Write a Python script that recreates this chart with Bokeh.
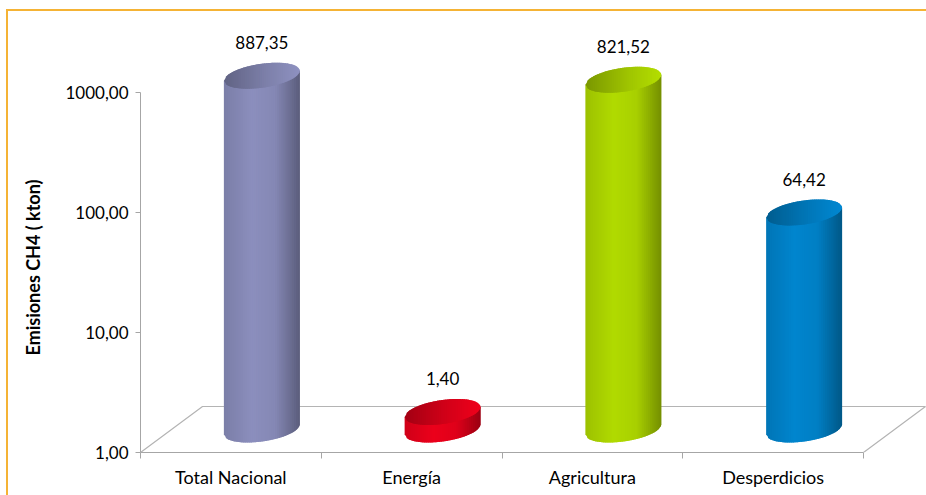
import math
import numpy as np
from bokeh.plotting import figure
from bokeh.models import (FixedTicker, LabelSet, ColumnDataSource, Title, Range1d)
from bokeh.core.properties import value
from bokeh.embed import file_html
from bokeh.resources import INLINE

# ---------------- data ----------------
categories = ["Total Nacional", "Energía", "Agricultura", "Desperdicios"]
emissions = [887.35, 1.40, 821.52, 64.42]
y_ticks = [1, 10, 100, 1000]
y_tick_labels = ["1,00", "10,00", "100,00", "1000,00"]
y_title = "Emisiones CH4 ( kton)"

# ---------------- style / layout ----------------
W, H = 926, 495
FL, FT = 139, 20          # frame left / top (px)
FW, FH = 786, 432         # frame size (px)
PPU = 180.75              # px per category unit
X_END = FW / PPU
DECADES = 3.6
PPD = FH / DECADES        # px per decade
DX, DY = 31, 23           # half-depth offset of 3D floor (px)
A, B, S = 38, 12, 5       # cylinder half-width, ellipse half-height, tilt (px)
NSTRIP = 40
OVERLAP = 1.6 / A         # strip overlap (in unit-radius terms) to avoid seams
FONT = "Lato"
BORDER = "#f5b335"

body_colors = [(134, 137, 182), (226, 0, 26), (170, 210, 0), (0, 128, 198)]
BODY_SHADE = [(-1.0, 0.92), (-0.25, 1.04), (0.35, 0.99), (1.0, 0.68)]
TOP_SHADE = [(-1.0, 0.72), (0.1, 0.93), (1.0, 1.06)]


def fx(x, px=0.0):
    return x + px / PPU


def fy(v, py=0.0):
    return v * 10 ** (py / PPD)


def shade(c, f):
    return "#%02x%02x%02x" % tuple(min(255, max(0, int(round(ch * f)))) for ch in c)


def factor(pts, u):
    return float(np.interp(u, [q[0] for q in pts], [q[1] for q in pts]))


p = figure(width=W, height=H, frame_width=FW, frame_height=FH,
           y_axis_type="log", x_range=Range1d(0, X_END),
           y_range=Range1d(1, 10 ** DECADES),
           output_backend="svg", toolbar_location=None,
           min_border_left=FL, min_border_top=FT,
           min_border_right=W - FL - FW, min_border_bottom=H - FT - FH)
p.xgrid.visible = False
p.ygrid.visible = False
p.outline_line_color = None
p.background_fill_color = "white"
p.border_fill_color = None
# chart-area border (top and left edges visible), drawn behind the transparent border area
p.styles = {
    "background": (f"linear-gradient({BORDER},{BORDER}) 6px 9px / 930px 2px no-repeat, "
                   f"linear-gradient({BORDER},{BORDER}) 6px 9px / 2px 500px no-repeat, white"),
}

n = len(categories)

# floor of the 3D plot
p.line(x=[0, fx(0, 2 * DX), fx(n, 2 * DX), n],
       y=[1, fy(1, 2 * DY), fy(1, 2 * DY), 1],
       line_color="#b4b4b4", line_width=1.2)

# cylinders
edges = np.linspace(-1, 1, NSTRIP + 1)
for i, v in enumerate(emissions):
    xc = i + 0.5
    col = body_colors[i]
    bxs, bys, bcs = [], [], []
    txs, tys, tcs = [], [], []
    for k in range(NSTRIP):
        u0, u1 = edges[k], min(1.0, edges[k + 1] + OVERLAP)
        um = 0.5 * (edges[k] + edges[k + 1])
        r0, r1 = math.sqrt(max(0, 1 - u0 * u0)), math.sqrt(max(0, 1 - u1 * u1))
        # body strip
        bxs.append([fx(xc, DX + A * u0), fx(xc, DX + A * u1),
                    fx(xc, DX + A * u1), fx(xc, DX + A * u0)])
        bys.append([fy(v, DY + S * u0), fy(v, DY + S * u1),
                    fy(1, DY + S * u1 - B * r1), fy(1, DY + S * u0 - B * r0)])
        bcs.append(shade(col, factor(BODY_SHADE, um)))
        # top strip
        txs.append([fx(xc, DX + A * u0), fx(xc, DX + A * u1),
                    fx(xc, DX + A * u1), fx(xc, DX + A * u0)])
        tys.append([fy(v, DY + S * u0 + B * r0), fy(v, DY + S * u1 + B * r1),
                    fy(v, DY + S * u1 - B * r1), fy(v, DY + S * u0 - B * r0)])
        tcs.append(shade(col, factor(TOP_SHADE, um)))
    p.patches(xs=bxs, ys=bys, fill_color=bcs, line_color=None)
    p.patches(xs=txs, ys=tys, fill_color=tcs, line_color=None)

# value labels
lab_src = ColumnDataSource(dict(
    x=[fx(i + 0.5, DX) for i in range(n)],
    y=[fy(v, DY) for v in emissions],
    text=[f"{v:.2f}".replace(".", ",") for v in emissions]))
p.add_layout(LabelSet(x="x", y="y", text="text", source=lab_src,
                      text_align="center", text_baseline="middle", y_offset=33,
                      text_font=value(FONT), text_font_size="17px",
                      text_color="#000000"))

# y axis
yax = p.yaxis[0]
yax.ticker = FixedTicker(ticks=y_ticks, minor_ticks=[])
yax.major_label_overrides = dict(zip(y_ticks, y_tick_labels))
yax.bounds = (y_ticks[0], y_ticks[-1])
yax.axis_line_color = "#a6a6a6"
yax.major_tick_line_color = "#a6a6a6"
yax.major_tick_out = 5
yax.major_tick_in = 0
yax.major_label_standoff = 7
yax.major_label_text_font = FONT
yax.major_label_text_font_size = "17px"
yax.major_label_text_color = "#000000"

# x axis
xax = p.xaxis[0]
centers = [i + 0.5 for i in range(n)]
xax.ticker = FixedTicker(ticks=centers, minor_ticks=list(range(n + 1)))
xax.major_label_overrides = dict(zip(centers, categories))
xax.bounds = (0, n)
xax.axis_line_color = "#a6a6a6"
xax.major_tick_out = 0
xax.major_tick_in = 0
xax.minor_tick_out = 6
xax.minor_tick_in = 0
xax.minor_tick_line_color = "#a6a6a6"
xax.major_label_standoff = 7
xax.major_label_text_font = FONT
xax.major_label_text_font_size = "18px"
xax.major_label_text_color = "#000000"

# y title (vertical, left of the axis)
p.add_layout(Title(text=y_title, align="left", offset=97, standoff=38,
                   text_font=FONT, text_font_size="18px", text_font_style="bold",
                   text_color="#000000"), "left")

open("out.html", "w").write(file_html(p, INLINE))
